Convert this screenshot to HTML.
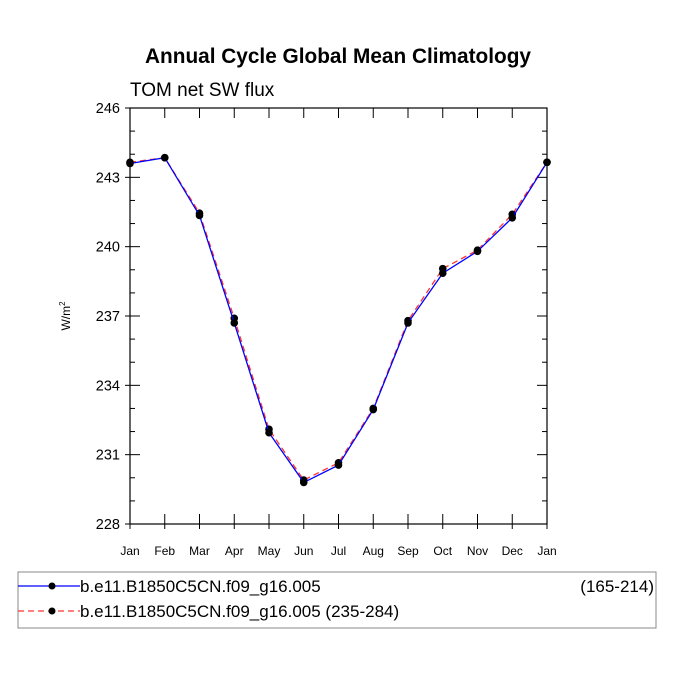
<!DOCTYPE html>
<html><head><meta charset="utf-8"><style>
body{margin:0;background:#fff;width:675px;height:676px;overflow:hidden}
text{font-family:"Liberation Sans",sans-serif}
</style></head><body>
<svg width="675" height="676" xmlns="http://www.w3.org/2000/svg">
<text x="338" y="63" text-anchor="middle" font-size="20.8" font-weight="bold">Annual Cycle Global Mean Climatology</text>
<text x="130" y="96" font-size="19">TOM net SW flux</text>
<text transform="translate(70,316) rotate(-90)" text-anchor="middle" font-size="12">W/m<tspan font-size="8" dy="-5">2</tspan></text>
<g id="axes"></g>
<g id="series"></g>
<rect x="18" y="572" width="638" height="56" fill="none" stroke="#888" stroke-width="1"/>
<g>
<line x1="18" y1="586" x2="80" y2="586" stroke="#00f" stroke-width="1.3"/><circle cx="52" cy="586" r="3.5"/>
<text x="80" y="592" font-size="17">b.e11.B1850C5CN.f09_g16.005</text>
<text x="654" y="592" font-size="17" text-anchor="end">(165-214)</text></g>
<g>
<line x1="18" y1="611" x2="80" y2="611" stroke="#f33" stroke-width="1.3" stroke-dasharray="6,4"/><circle cx="52" cy="611" r="3.5"/>
<text x="80" y="617" font-size="17">b.e11.B1850C5CN.f09_g16.005 (235-284)</text></g>
</svg>
<script>
const months=["Jan","Feb","Mar","Apr","May","Jun","Jul","Aug","Sep","Oct","Nov","Dec","Jan"];
const yTicks=[228,231,234,237,240,243,246];
const seriesBlue=[243.6,243.85,241.35,236.7,231.95,229.8,230.55,232.95,236.7,238.85,239.8,241.25,243.65];
const seriesRed=[243.65,243.85,241.45,236.9,232.1,229.9,230.65,233.0,236.8,239.05,239.85,241.4,243.65];
const NS="http://www.w3.org/2000/svg";
const L=130,R=547,T=108,B=524,ymin=228,ymax=246;
const xs=i=>L+(R-L)*i/(months.length-1);
const ys=v=>B-(B-T)*(v-ymin)/(ymax-ymin);
function mk(tag,attrs,parent){const e=document.createElementNS(NS,tag);for(const k in attrs)e.setAttribute(k,attrs[k]);parent.appendChild(e);return e;}
const ax=document.getElementById('axes');
const frame=mk('rect',{x:L,y:T,width:R-L,height:B-T,fill:'none',stroke:'#000','stroke-width':1.2},ax);


for(let v=ymin;v<=ymax;v+=1){const y=ys(v);const major=yTicks.includes(v);const len=major?10:5;
mk('line',{x1:L,y1:y,x2:L+len,y2:y,stroke:'#000'},ax);mk('line',{x1:R,y1:y,x2:R-len,y2:y,stroke:'#000'},ax);
if(major){mk('line',{x1:L,y1:y,x2:L-5,y2:y,stroke:'#000'},ax);}}
yTicks.forEach(v=>{const t=mk('text',{x:L-10,y:ys(v)+5,'text-anchor':'end','font-size':14.5},ax);t.textContent=v;

});
months.forEach((m,i)=>{const x=xs(i);mk('line',{x1:x,y1:B,x2:x,y2:B-10,stroke:'#000'},ax);mk('line',{x1:x,y1:T,x2:x,y2:T+10,stroke:'#000'},ax);mk('line',{x1:x,y1:B,x2:x,y2:B+5,stroke:'#000'},ax);
const t=mk('text',{x:x,y:B+31,'text-anchor':'middle','font-size':12},ax);t.textContent=m;

});
const sg=document.getElementById('series');
function draw(vals,color,dash,name){const p=mk('polyline',{points:vals.map((v,i)=>xs(i)+','+ys(v)).join(' '),fill:'none',stroke:color,'stroke-width':1.3,'stroke-dasharray':dash},sg);


vals.forEach((v,i)=>{const c=mk('circle',{cx:xs(i),cy:ys(v),r:3.8,fill:'#000'},sg);

});}
draw(seriesRed,'#f33','6,4','series-red');
draw(seriesBlue,'#00f','none','series-blue');
</script>
</body></html>
